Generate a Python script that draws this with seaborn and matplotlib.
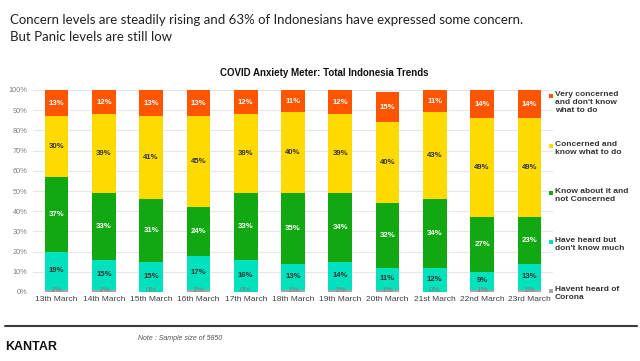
import matplotlib
matplotlib.use("Agg")
import matplotlib.pyplot as plt
import seaborn as sns
import numpy as np
import pandas as pd
from matplotlib.patches import Rectangle
from matplotlib.lines import Line2D

dates = ["13th March", "14th March", "15th March", "16th March", "17th March",
         "18th March", "19th March", "20th March", "21st March", "22nd March", "23rd March"]
havent_heard = [1, 1, 0, 1, 0, 1, 1, 1, 0, 1, 1]
heard_not_much = [19, 15, 15, 17, 16, 13, 14, 11, 12, 9, 13]
not_concerned = [37, 33, 31, 24, 33, 35, 34, 32, 34, 27, 23]
concerned_know = [30, 39, 41, 45, 39, 40, 39, 40, 43, 49, 49]
very_concerned = [13, 12, 13, 13, 12, 11, 12, 15, 11, 14, 14]

series_names = ["Havent heard of\nCorona", "Have heard but\ndon't know much",
                "Know about it and\nnot Concerned", "Concerned and\nknow what to do",
                "Very concerned\nand don't know\nwhat to do"]
series_vals = [havent_heard, heard_not_much, not_concerned, concerned_know, very_concerned]
colors = ["#A6A6A6", "#00E2BE", "#11A811", "#FFDA00", "#FF5500"]
label_colors = ["#7F7F7F", "#333333", "#FFFFFF", "#333333", "#FFFFFF"]

sns.set_style("white")
plt.rcParams["font.family"] = ["Liberation Sans", "DejaVu Sans"]

fig = plt.figure(figsize=(6.4, 3.61), dpi=100)
ax = fig.add_axes([33/640, 1 - 292/361, (553-33)/640, (292-90)/361])

bottom = np.zeros(len(dates))
for name, vals, col, lc in zip(series_names, series_vals, colors, label_colors):
    df = pd.DataFrame({"date": dates, "val": vals})
    sns.barplot(data=df, x="date", y="val", color=col, width=0.5,
                bottom=bottom.copy(), ax=ax, saturation=1, edgecolor="none", linewidth=0, zorder=3)
    for i, v in enumerate(vals):
        if name.startswith("Havent"):
            ax.text(i, bottom[i] + 0.6, f"{v}%", ha="center", va="center",
                    fontsize=5.8, color=lc, zorder=5)
        else:
            ax.text(i, bottom[i] + v / 2, f"{v}%", ha="center", va="center",
                    fontsize=5.6, color=lc, fontweight="bold", zorder=5)
    bottom += np.array(vals)

ax.set_xlim(-0.5, len(dates) - 0.5)
ax.set_ylim(0, 100)
ax.set_yticks(np.arange(0, 101, 10))
ax.set_yticklabels([f"{t}%" for t in range(0, 101, 10)], fontsize=5.3, color="#808080")
ax.set_xlabel("")
ax.set_ylabel("")
ax.tick_params(axis="x", labelsize=6, colors="#404040", length=0, pad=3)
ax.tick_params(axis="y", length=0, pad=4)
ax.grid(axis="y", color="#E6E6E6", linewidth=0.8, zorder=0)
for s in ax.spines.values():
    s.set_visible(False)
ax.axhline(0, color="#D9D9D9", linewidth=0.8, zorder=1)

# Legend (manual, right side)
legend_y = [96, 146, 193, 242, 291]
order = list(zip(series_names[::-1], colors[::-1], legend_y))
for name, col, yy in order:
    fig.patches.append(Rectangle((549/640, 1 - (yy + 2)/361), 4/640, 4/361,
                                 transform=fig.transFigure, facecolor=col, edgecolor="none"))
    fig.text(555/640, 1 - (yy - 5)/361, name, fontsize=6, fontweight="bold",
             color="#333333", va="top", ha="left", linespacing=1.2)

# Titles
fig.text(10/640, 1 - 20/361, "Concern levels are steadily rising and 63% of Indonesians have expressed some concern.",
         fontsize=9.5, family=["Lato", "DejaVu Sans"], color="#222222", va="center", ha="left")
fig.text(10/640, 1 - 37/361, "But Panic levels are still low",
         fontsize=9.5, family=["Lato", "DejaVu Sans"], color="#222222", va="center", ha="left")
fig.text(324/640, 1 - 73/361, "COVID Anxiety Meter: Total Indonesia Trends",
         fontsize=7, fontweight="bold", color="#111111", va="center", ha="center")

# Footer
fig.lines.append(Line2D([5/640, 637/640], [1 - 326/361, 1 - 326/361], transform=fig.transFigure,
                        color="#3A3A3A", linewidth=1.5))
fig.text(138/640, 1 - 339/361, "Note : Sample size of 5850", fontsize=5, style="italic",
         color="#555555", va="center", ha="left")
fig.text(5/640, 1 - 347/361, "KANTAR", fontsize=9, fontweight="bold", color="#111111",
         va="center", ha="left")

fig.savefig("out.png", dpi=100)
